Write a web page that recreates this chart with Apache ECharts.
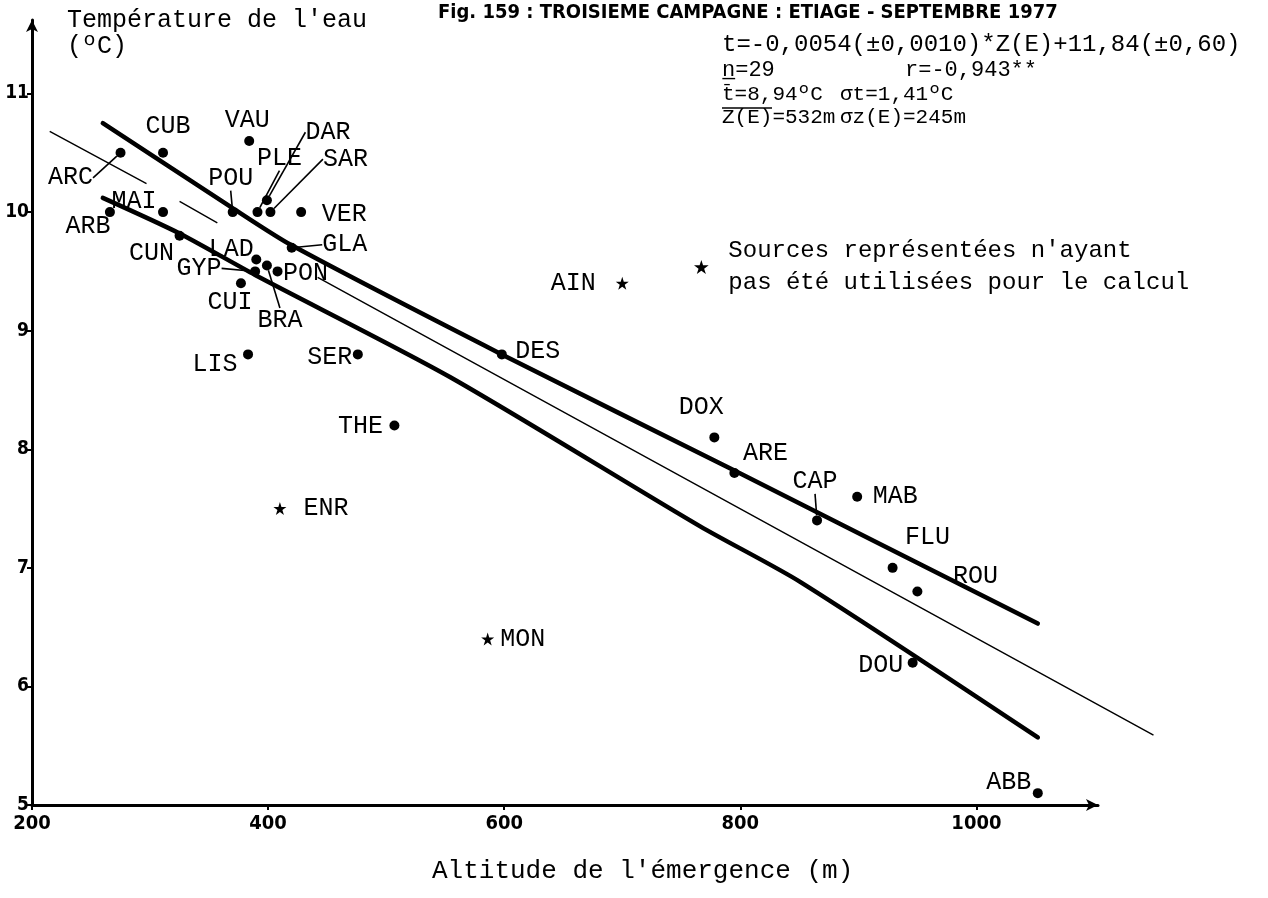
<!DOCTYPE html>
<html><head><meta charset="utf-8">
<script src="https://cdn.jsdelivr.net/npm/echarts@6/dist/echarts.min.js"></script>
<style>html,body{margin:0;padding:0;background:#fff}#c{width:1268px;height:898px}</style>
</head><body><div id="c"></div>
<script>
// ---- data ----
const stationNames = ['ARC','CUB','VAU','DAR','PLE','SAR','POU','VER','MAI','ARB','CUN','LAD','GYP','BRA','PON','CUI','GLA','LIS','SER','THE','DES','DOX','ARE','CAP','MAB','FLU','ROU','DOU','ABB'];
const stationAltitude = [275,311,384,399,391,402,370,428,311,266,325,390,389,399,408,377,420,383,476,507,598,778,795,865,899,929,950,946,1052];
const stationTemperature = [10.5,10.5,10.6,10.1,10.0,10.0,10.0,10.0,10.0,10.0,9.8,9.6,9.5,9.55,9.5,9.4,9.7,8.8,8.8,8.2,8.8,8.1,7.8,7.4,7.6,7.0,6.8,6.2,5.1];

const unusedNames = ['AIN','ENR','MON'];
const unusedAltitude = [700,410,586];
const unusedTemperature = [9.4,7.5,6.4];

const regressionAltitude = [215,297,null,325,357,null,442,1150];
const regressionTemperature = [10.68,10.24,null,10.09,9.91,null,9.45,5.59];
const upperBandAltitude = [260,369,420,598,795,1052];
const upperBandTemperature = [10.75,10.04,9.72,8.80,7.82,6.53];
const lowerBandAltitude = [260,325,389,554,766,851,1052];
const lowerBandTemperature = [10.12,9.82,9.47,8.61,7.35,6.88,5.57];

const xTickValues = [200,400,600,800,1000];
const yTickValues = [5,6,7,8,9,10,11];

// ---- layout / style ----
const MONO = "'Liberation Mono','DejaVu Sans Mono',monospace";
const NARROW = "'Liberation Sans Narrow','DejaVu Sans Condensed','Liberation Sans',sans-serif";
const STAR = 'path://M12 0 L14.8 8.6 L23.8 8.6 L16.5 13.9 L19.3 22.5 L12 17.2 L4.7 22.5 L7.5 13.9 L0.2 8.6 L9.2 8.6 Z';
const withLeader = ['ARC','DAR','PLE','SAR','POU','GYP','BRA','GLA','CAP'];
const labelOffset = {
  ARC:[-50,25], CUB:[5,-26], VAU:[-2,-21], DAR:[61,-68], PLE:[22,-54], SAR:[75,-53], POU:[-2,-34],
  VER:[43,2], MAI:[-29,-11], ARB:[-22,14], CUN:[-28,18], LAD:[-25,-10], GYP:[-56,-3], BRA:[13,55],
  PON:[28,2], CUI:[-11,19], GLA:[53,-3], LIS:[-33,10], SER:[-28,3], THE:[-34,1], DES:[36,-3],
  DOX:[-13,-30], ARE:[31,-20], CAP:[-2,-39], MAB:[38,0], FLU:[35,-30], ROU:[58,-15], DOU:[-32,3],
  ABB:[-29,-11], AIN:[-49,0], ENR:[46,0], MON:[35,0]
};
function layoutFn(p){
  const o = labelOffset[p.text] || [0,0];
  return {x: p.rect.x + p.rect.width/2 + o[0], y: p.rect.y + p.rect.height/2 + o[1], align:'center', verticalAlign:'middle'};
}
const plainData = [], leaderData = [];
stationNames.forEach((n,i)=>{
  const d = {name:n, value:[stationAltitude[i], stationTemperature[i]]};
  (withLeader.indexOf(n) >= 0 ? leaderData : plainData).push(d);
});
const starData = unusedNames.map((n,i)=>({name:n, value:[unusedAltitude[i], unusedTemperature[i]]}));
const toLine = (xs, ys) => xs.map((x,i)=> x === null ? ['-','-'] : [x, ys[i]]);

const labelStyle = {show:true, formatter:'{b}', position:'inside', color:'#000', fontFamily:MONO, fontSize:25};
const LEGEND_NAME = "Sources représentées n'ayant\npas été utilisées pour le calcul";

// same pixel scale on both grids; grid 1 only extends further right (for the regression line)
const X_MAX = 1103, X_MAX_EXT = 1160;
const pxPerM = (1268 - 32 - 170) / (X_MAX - 200);
const rightExt = 1268 - 32 - (X_MAX_EXT - 200) * pxPerM;

const chart = echarts.init(document.getElementById('c'));
chart.setOption({
  animation:false,
  backgroundColor:'#fff',
  grid:[
    {left:32, right:170, top:20, bottom:93, outerBoundsMode:'none'},
    {left:32, right:rightExt, top:20, bottom:93, outerBoundsMode:'none'}
  ],
  xAxis:[
    {type:'value', gridIndex:0, min:200, max:X_MAX, interval:200, splitLine:{show:false},
      axisLine:{lineStyle:{color:'#000', width:3}, symbol:['none','arrow'], symbolSize:[9,12]},
      axisTick:{customValues:xTickValues, length:5, lineStyle:{color:'#000', width:2}},
      axisLabel:{customValues:xTickValues, formatter:v=>String(v), color:'#000', fontFamily:NARROW, fontWeight:'bold', fontSize:20, margin:9}},
    {type:'value', gridIndex:1, min:200, max:X_MAX_EXT, show:false, splitLine:{show:false}}
  ],
  yAxis:[
    {type:'value', gridIndex:0, min:5, max:11.62, interval:1, splitLine:{show:false},
      axisLine:{lineStyle:{color:'#000', width:3}, symbol:['none','arrow'], symbolSize:[9,12]},
      axisTick:{customValues:yTickValues, length:5, lineStyle:{color:'#000', width:2}},
      axisLabel:{customValues:yTickValues, formatter:v=>String(v), color:'#000', fontFamily:NARROW, fontWeight:'bold', fontSize:19, margin:3}},
    {type:'value', gridIndex:1, min:5, max:11.62, show:false, splitLine:{show:false}}
  ],
  legend:{data:[{name:LEGEND_NAME, icon:STAR}], left:689, top:230, itemWidth:44, itemHeight:14, selectedMode:false,
    textStyle:{fontFamily:MONO, fontSize:24, lineHeight:32, color:'#000'}},
  series:[
    {type:'line', name:'regression', xAxisIndex:1, yAxisIndex:1, data:toLine(regressionAltitude, regressionTemperature), showSymbol:false, silent:true,
      lineStyle:{color:'#000', width:1.4}},
    {type:'line', name:'upper', data:toLine(upperBandAltitude, upperBandTemperature), showSymbol:false, smooth:0.25, silent:true,
      lineStyle:{color:'#000', width:4.5, cap:'round'}},
    {type:'line', name:'lower', data:toLine(lowerBandAltitude, lowerBandTemperature), showSymbol:false, smooth:0.25, silent:true,
      lineStyle:{color:'#000', width:4.5, cap:'round'}},
    {type:'scatter', name:'stations', data:plainData, symbol:'circle', symbolSize:10, itemStyle:{color:'#000', opacity:1},
      label:labelStyle, labelLayout:layoutFn, z:5},
    {type:'scatter', name:'stationsLeader', data:leaderData, symbol:'circle', symbolSize:10, itemStyle:{color:'#000', opacity:1},
      label:labelStyle, labelLayout:layoutFn, labelLine:{show:true, length2:0, lineStyle:{color:'#000', width:1.6}}, z:5},
    {type:'scatter', name:LEGEND_NAME, data:starData, symbol:STAR, symbolSize:13, itemStyle:{color:'#000', opacity:1},
      label:labelStyle, labelLayout:layoutFn, z:5}
  ],
  graphic:[
    {type:'text', left:67, top:7, style:{text:"Température de l'eau\n(ºC)", font:`25px ${MONO}`, lineHeight:26, fill:'#000'}},
    {type:'text', left:438, top:3, style:{text:'Fig. 159 : TROISIEME CAMPAGNE : ETIAGE - SEPTEMBRE 1977', font:`bold 20px ${NARROW}`, fill:'#000'}},
    {type:'text', left:722, top:33, style:{text:'t=-0,0054(±0,0010)*Z(E)+11,84(±0,60)', font:`24px ${MONO}`, fill:'#000'}},
    {type:'text', left:722, top:59, style:{text:'n̲=29', font:`22px ${MONO}`, fill:'#000'}},
    {type:'text', left:905, top:59, style:{text:'r=-0,943**', font:`22px ${MONO}`, fill:'#000'}},
    {type:'text', left:722, top:84, style:{text:'t̄=8,94ºC', font:`21px ${MONO}`, fill:'#000'}},
    {type:'text', left:840, top:84, style:{text:'σt=1,41ºC', font:`21px ${MONO}`, fill:'#000'}},
    {type:'text', left:722, top:107, style:{text:'Z(E)=532m', font:`21px ${MONO}`, fill:'#000'}},
    {type:'line', shape:{x1:722, y1:108, x2:772, y2:108}, style:{stroke:'#000', lineWidth:1.5}},
    {type:'text', left:840, top:107, style:{text:'σz(E)=245m', font:`21px ${MONO}`, fill:'#000'}},
    {type:'text', left:432, top:858, style:{text:"Altitude de l'émergence (m)", font:`26px ${MONO}`, fill:'#000'}}
  ]
});
</script>
</body></html>
